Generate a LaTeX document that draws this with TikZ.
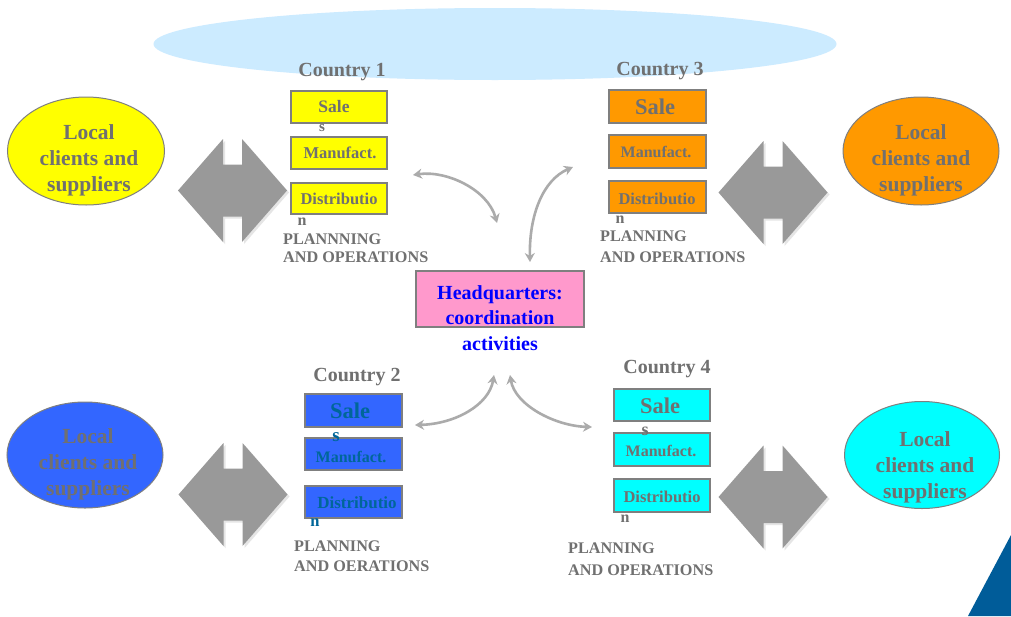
\documentclass[tikz,border=0pt]{standalone}
\usepackage{fontspec}
\setmainfont{Liberation Serif}
\usetikzlibrary{arrows.meta,shapes.geometric}
\definecolor{txtgray}{HTML}{707070}
\definecolor{boxline}{HTML}{7F7F7F}
\definecolor{arrgray}{HTML}{999999}
\definecolor{curvegray}{HTML}{ABABAB}
\definecolor{skyfill}{HTML}{CCEBFF}
\definecolor{c1fill}{HTML}{FFFF00}
\definecolor{c3fill}{HTML}{FF9900}
\definecolor{c2fill}{HTML}{3366FF}
\definecolor{c4fill}{HTML}{00FFFF}
\definecolor{teal2}{HTML}{006699}
\definecolor{hqfill}{HTML}{FF99CC}
\definecolor{hqtext}{HTML}{0000FF}
\definecolor{cornerblue}{HTML}{005C99}
\newcommand{\fs}[1]{\bfseries\fontsize{#1}{#1}\selectfont}
\tikzset{
  ell/.style={ellipse, draw=boxline, line width=1pt, inner sep=0pt},
  elltext/.style={align=center, text=txtgray, font=\bfseries\fontsize{21.5}{26}\selectfont, inner sep=0pt},
  actbox/.style={rectangle, draw=boxline, line width=1.5pt, minimum width=96, minimum height=32, inner sep=0pt},
  lbl/.style={inner sep=0pt, text=txtgray},
  plan/.style={inner sep=0pt, anchor=west, text=txtgray, font=\fs{16.2}},
  ctry/.style={inner sep=0pt, text=txtgray, font=\fs{20}},
  curve/.style={draw=curvegray, line width=2.6pt, {Stealth[length=9pt,width=10pt]}-{Stealth[length=9pt,width=10pt]}},
  dblarrow/.pic={
    \fill[black!10] (-52.5,2) -- (-7.5,-49.5) -- (-7.5,-24) -- (11.5,-24) -- (11.5,-49.5) -- (56.5,2) -- (11.5,53.5) -- (11.5,28) -- (-7.5,28) -- (-7.5,53.5) -- cycle;
    \fill[arrgray] (-54.5,0) -- (-9.5,-51.5) -- (-9.5,-26) -- (9.5,-26) -- (9.5,-51.5) -- (54.5,0) -- (9.5,51.5) -- (9.5,26) -- (-9.5,26) -- (-9.5,51.5) -- cycle;
  }
}
\begin{document}
\begin{tikzpicture}[x=1pt,y=-1pt]
\useasboundingbox (0,0) rectangle (1011,616);
\fill[white] (0,0) rectangle (1011,616);

% top sky ellipse
\node[ellipse, fill=skyfill, minimum width=683, minimum height=72, inner sep=0pt] (sky) at (495,44) {};

% corner triangle
\fill[cornerblue] (1011,535) -- (968,616) -- (1011,616) -- cycle;

% local ellipses
\node[ell, fill=c1fill, minimum width=157, minimum height=108] (e1) at (86,151) {};
\node[elltext] (e1t) at (89,160) {Local\\clients and\\suppliers};
\node[ell, fill=c3fill, minimum width=156, minimum height=108] (e3) at (921,151) {};
\node[elltext] (e3t) at (921,160) {Local\\clients and\\suppliers};
\node[ell, fill=c2fill, minimum width=156, minimum height=106] (e2) at (85,455) {};
\node[elltext] (e2t) at (88,464) {Local\\clients and\\suppliers};
\node[ell, fill=c4fill, minimum width=155, minimum height=107] (e4) at (922,455) {};
\node[elltext] (e4t) at (925,467) {Local\\clients and\\suppliers};

% block double arrows
\pic at (232.5,190.5) {dblarrow};
\pic at (773,192.5) {dblarrow};
\pic at (233,494.5) {dblarrow};
\pic at (773,497) {dblarrow};

% Country 1
\node[ctry] (c1) at (342,72) {Country 1};
\node[actbox, fill=c1fill] (c1s) at (339,107) {};
\node[actbox, fill=c1fill] (c1m) at (339,153) {};
\node[actbox, fill=c1fill, minimum height=31] (c1d) at (339,198.5) {};
\node[lbl, font=\fs{17.5}] (c1st) at (334,107) {Sale};
\node[lbl, font=\fs{15}] (c1s2) at (322,128) {s};
\node[lbl, font=\fs{16.5}] (c1mt) at (340,153) {Manufact.};
\node[lbl, font=\fs{16.5}] (c1dt) at (339,199) {Distributio};
\node[lbl, font=\fs{16}] (c1n) at (302,222) {n};
\node[plan] (c1p1) at (283,239) {PLANNNING};
\node[plan] (c1p2) at (283,257) {AND OPERATIONS};

% Country 3
\node[ctry] (c3) at (660,71) {Country 3};
\node[actbox, fill=c3fill, minimum width=97, minimum height=33] (c3s) at (657.5,106.5) {};
\node[actbox, fill=c3fill, minimum width=97, minimum height=33] (c3m) at (657.5,151.5) {};
\node[actbox, fill=c3fill, minimum width=97, minimum height=32] (c3d) at (657.5,197) {};
\node[lbl, font=\fs{22.5}] (c3st) at (655,107) {Sale};
\node[lbl, font=\fs{16}] (c3mt) at (656,152) {Manufact.};
\node[lbl, font=\fs{16.5}] (c3dt) at (657,199) {Distributio};
\node[lbl, font=\fs{16}] (c3n) at (620,220) {n};
\node[plan] (c3p1) at (600,236) {PLANNING};
\node[plan] (c3p2) at (600,257) {AND OPERATIONS};

% Country 2
\node[ctry] (c2) at (357,377) {Country 2};
\node[actbox, fill=c2fill, minimum width=97, minimum height=33] (c2s) at (353.5,410.5) {};
\node[actbox, fill=c2fill, minimum width=97, minimum height=32] (c2m) at (353.5,454) {};
\node[actbox, fill=c2fill, minimum width=97, minimum height=32] (c2d) at (353.5,502) {};
\node[lbl, text=teal2, font=\fs{22.5}] (c2st) at (350,411) {Sale};
\node[lbl, text=teal2, font=\fs{19}] (c2s2) at (336,437) {s};
\node[lbl, text=teal2, font=\fs{16}] (c2mt) at (351,457) {Manufact.};
\node[lbl, text=teal2, font=\fs{17}] (c2dt) at (357,503) {Distributio};
\node[lbl, text=teal2, font=\fs{16.5}] (c2n) at (315,523) {n};
\node[plan] (c2p1) at (294,546) {PLANNING};
\node[plan] (c2p2) at (294,566) {AND OERATIONS};

% Country 4
\node[ctry] (c4) at (667,369) {Country 4};
\node[actbox, fill=c4fill, minimum width=96, minimum height=32] (c4s) at (662,405) {};
\node[actbox, fill=c4fill, minimum width=96, minimum height=33] (c4m) at (662,449.5) {};
\node[actbox, fill=c4fill, minimum width=96, minimum height=33] (c4d) at (662,495.5) {};
\node[lbl, font=\fs{22.5}] (c4st) at (660,406) {Sale};
\node[lbl, font=\fs{18}] (c4s2) at (645,431) {s};
\node[lbl, font=\fs{16}] (c4mt) at (661,451) {Manufact.};
\node[lbl, font=\fs{16.5}] (c4dt) at (662,497) {Distributio};
\node[lbl, font=\fs{16}] (c4n) at (625,519) {n};
\node[plan] (c4p1) at (568,548) {PLANNING};
\node[plan] (c4p2) at (568,570) {AND OPERATIONS};

% Headquarters
\node[rectangle, draw=boxline, line width=1.5pt, fill=hqfill, minimum width=168, minimum height=56, inner sep=0pt] (hq) at (500,299) {};
\node[inner sep=0pt, align=center, text=hqtext, font=\bfseries\fontsize{20}{25.5}\selectfont] (hqt) at (500,318) {Headquarters:\\coordination\\activities};

% curved double arrows
\coordinate (a1s) at (413,175); \coordinate (a1e) at (497,223);
\coordinate (a3s) at (530,262); \coordinate (a3e) at (573,167);
\coordinate (a2s) at (494,375); \coordinate (a2e) at (415,425);
\coordinate (a4s) at (510,375); \coordinate (a4e) at (592,427);
\draw[curve] (a1s) .. controls (447,170) and (488,190) .. (a1e);
\draw[curve] (a3s) .. controls (529,215) and (543,180) .. (a3e);
\draw[curve] (a2s) .. controls (489,405) and (455,424) .. (a2e);
\draw[curve] (a4s) .. controls (515,405) and (555,426) .. (a4e);
\end{tikzpicture}
\end{document}
